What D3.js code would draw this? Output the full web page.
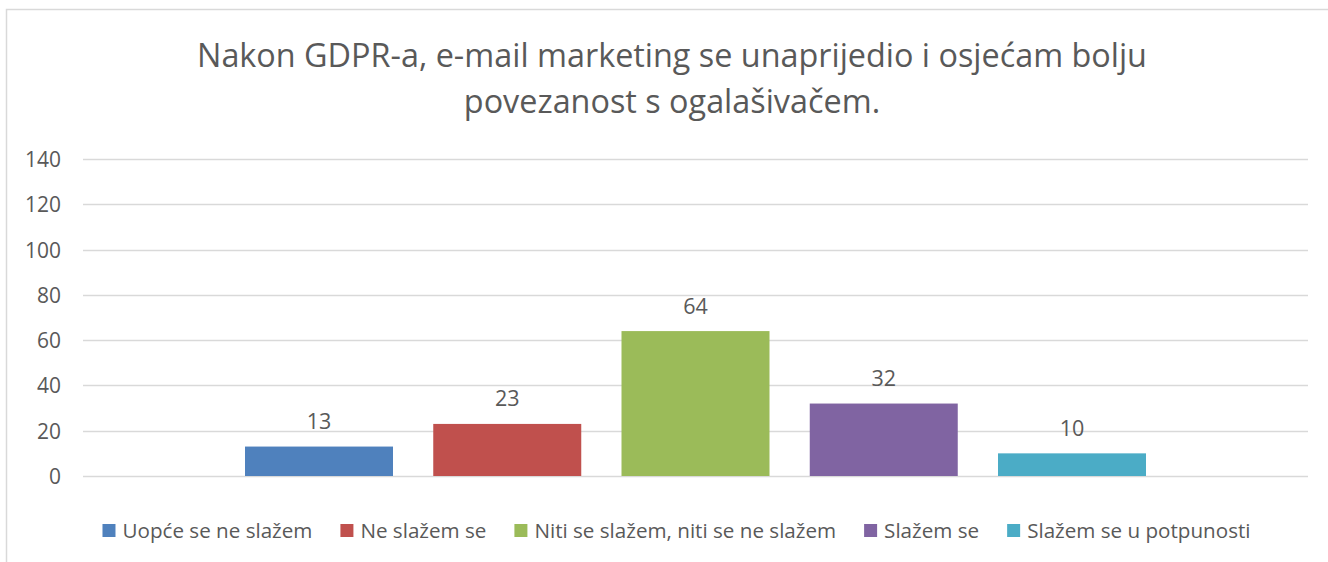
<!DOCTYPE html>
<html>
<head>
<meta charset="utf-8">
<script src="https://cdn.jsdelivr.net/npm/d3@7"></script>
<style>
  html, body { margin: 0; padding: 0; background: #fff; }
  svg { display: block; }
  text { font-family: "Open Sans", "DejaVu Sans", sans-serif; fill: #595959; }
</style>
</head>
<body>
<svg id="chart" width="1328" height="562"></svg>
<script>
const titleLines = ["Nakon GDPR-a, e-mail marketing se unaprijedio i osjećam bolju", "povezanost s ogalašivačem."];
const category = ["Q"];
const seriesNames = ["Uopće se ne slažem", "Ne slažem se", "Niti se slažem, niti se ne slažem", "Slažem se", "Slažem se u potpunosti"];
const seriesValues = [13, 23, 64, 32, 10];
const seriesColors = ["#4F81BD", "#C0504D", "#9BBB59", "#8064A2", "#4BACC6"];
const yTicks = [0, 20, 40, 60, 80, 100, 120, 140];

const svg = d3.select("#chart");
const plot = { left: 83, right: 1308, top: 159, bottom: 476 };

// chart border
svg.append("rect").attr("x", 6.5).attr("y", 9.5).attr("width", 1400).attr("height", 700)
  .attr("fill", "none").attr("stroke", "#d9d9d9").attr("stroke-width", 1.5);

function fitSize(sel, target, base) {
  sel.attr("font-size", base);
  const w = sel.node().getComputedTextLength();
  const s = base * target / w;
  sel.attr("font-size", s);
  return s;
}

// title
const t1 = svg.append("text").attr("x", 672).attr("y", 67).attr("text-anchor", "middle").text(titleLines[0]);
const ts = fitSize(t1, 950, 30);
svg.append("text").attr("x", 672).attr("y", 113).attr("text-anchor", "middle")
  .attr("font-size", ts).text(titleLines[1]);

const y = d3.scaleLinear().domain([0, 140]).range([plot.bottom, plot.top]);
const x0 = d3.scaleBand().domain(category).range([plot.left, plot.right]).paddingInner(0).paddingOuter(0.1798);
const x1 = d3.scaleBand().domain(seriesNames).range([0, x0.bandwidth()]).paddingInner(0.2138).paddingOuter(0);

// gridlines
svg.append("g").selectAll("line").data(yTicks).join("line")
  .attr("x1", plot.left).attr("x2", plot.right)
  .attr("y1", d => Math.round(y(d)) + 0.5).attr("y2", d => Math.round(y(d)) + 0.5)
  .attr("stroke", "#d9d9d9").attr("stroke-width", 1.5);

// y axis labels
const yAxis = d3.axisLeft(y).tickValues(yTicks).tickSize(0).tickPadding(0);
const ga = svg.append("g").attr("transform", `translate(61,0)`).call(yAxis);
ga.select(".domain").remove();
const probe = svg.append("text").text("140");
const tickSize = fitSize(probe, 36, 20);
probe.remove();
ga.selectAll("text").attr("font-size", tickSize).attr("font-family", null).attr("fill", "#595959")
  .attr("dy", "0.36em");

// bars
const data = seriesNames.map((n, i) => ({ name: n, value: seriesValues[i], color: seriesColors[i] }));
const g = svg.append("g").attr("transform", `translate(${x0(category[0])},0)`);
g.selectAll("rect").data(data).join("rect")
  .attr("x", d => x1(d.name)).attr("width", x1.bandwidth())
  .attr("y", d => y(d.value)).attr("height", d => y(0) - y(d.value))
  .attr("fill", d => d.color);

// value labels
g.selectAll("text.val").data(data).join("text").attr("class", "val")
  .attr("x", d => x1(d.name) + x1.bandwidth() / 2)
  .attr("y", d => y(d.value) - 17.5)
  .attr("text-anchor", "middle").attr("font-size", 21.5)
  .text(d => d.value);

// legend
const legFont = 20;
const leg = svg.append("g");
const items = leg.selectAll("g").data(data).join("g");
items.append("rect").attr("width", 13).attr("height", 13).attr("y", 524).attr("fill", d => d.color);
items.append("text").attr("x", 20).attr("y", 538).attr("font-size", legFont).text(d => d.name);
const firstW = items.select("text").node().getComputedTextLength();
const lf = legFont * 190 / firstW;
items.selectAll("text").attr("font-size", lf);
const gap = 28;
const widths = [];
items.each(function() {
  const tw = d3.select(this).select("text").node().getComputedTextLength();
  widths.push(20 + tw);
});
const total = d3.sum(widths) + gap * (widths.length - 1);
let start = 676.5 - total / 2;
items.attr("transform", (d, i) => {
  const tx = start;
  start += widths[i] + gap;
  return `translate(${tx},0)`;
});
</script>
</body>
</html>
